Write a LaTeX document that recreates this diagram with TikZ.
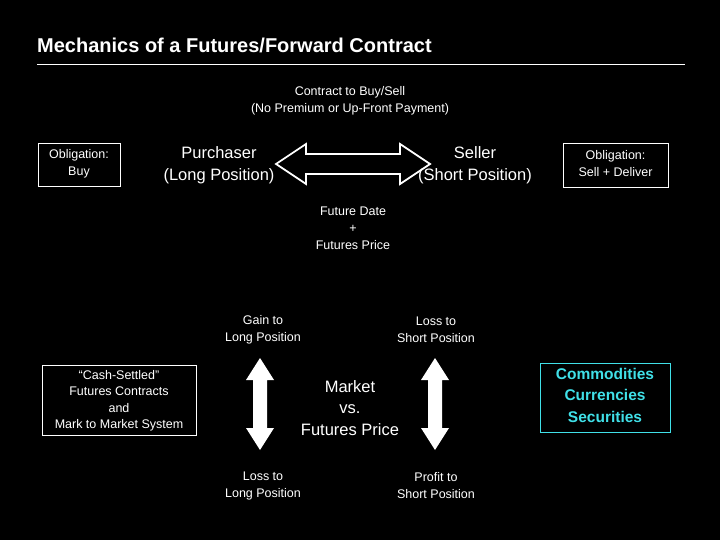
\documentclass[tikz,border=0pt]{standalone}
\usepackage{fontspec}
\setmainfont{Liberation Sans}
\definecolor{boxcyan}{RGB}{64,224,232}
\tikzset{
  txt/.style={text=white,align=center,font=\fontsize{12.5}{17}\selectfont,inner sep=0pt},
  big/.style={text=white,align=center,font=\fontsize{16.5}{21.5}\selectfont,inner sep=0pt},
  obox/.style={draw=white,line width=0.8pt},
  harrow/.style={draw=white,line width=1.8pt,fill=black,line join=miter},
  varrow/.style={fill=white}
}
\newcommand\hdarrow[2]{% center x, center y
  \draw[harrow] (#1-77,#2) -- ++(30,-20) -- ++(0,10) -- ++(94,0) -- ++(0,-10) -- ++(30,20)
    -- ++(-30,20) -- ++(0,-10) -- ++(-94,0) -- ++(0,10) -- cycle;}
\newcommand\vdarrow[2]{%
  \fill[varrow] (#1,#2-46) -- ++(14,22) -- ++(-7,0) -- ++(0,48) -- ++(7,0) -- ++(-14,22)
    -- ++(-14,-22) -- ++(7,0) -- ++(0,-48) -- ++(-7,0) -- cycle;}
\begin{document}
\begin{tikzpicture}[x=1pt,y=-1pt]
\fill[black] (0,0) rectangle (720,540);
\useasboundingbox (0,0) rectangle (720,540);
% title
\node[anchor=west,text=white,font=\bfseries\fontsize{20}{24}\selectfont,inner sep=0pt] (title) at (37,45) {Mechanics of a Futures/Forward Contract};
\draw[white,line width=0.6pt] (37,64) -- (685,64);
% top row
\node[txt] (contract) at (350,101) {Contract to Buy/Sell\\(No Premium or Up-Front Payment)};
\draw[obox] (38,143) rectangle (120,186);
\node[txt] (obuy) at (79,164) {Obligation:\\Buy};
\node[big] (buyer) at (219,165) {Purchaser\\(Long Position)};
\hdarrow{353}{164}
\node[big] (seller) at (475,165) {Seller\\(Short Position)};
\draw[obox] (563,143) rectangle (668,187);
\node[txt] (osell) at (615.5,164) {Obligation:\\Sell + Deliver};
\node[txt] (date) at (353,228) {Future Date\\+\\Futures Price};
% lower part
\node[txt] (gainl) at (263,330) {Gain to\\Long Position};
\node[txt] (losss) at (436,330) {Loss to\\Short Position};
\draw[obox] (42,365) rectangle (196,435);
\node[txt,font=\fontsize{12.5}{16.5}\selectfont] (cash) at (119,401) {``Cash-Settled''\\Futures Contracts\\and\\Mark to Market System};
\vdarrow{260}{404}
\vdarrow{435}{404}
\node[big] (market) at (350,408) {Market\\vs.\\Futures Price};
\node[txt] (lossl) at (263,486) {Loss to\\Long Position};
\node[txt] (profs) at (436,486) {Profit to\\Short Position};
\draw[boxcyan,line width=1pt] (540,363) rectangle (670,432);
\node[text=boxcyan,align=center,font=\bfseries\fontsize{15.5}{21.5}\selectfont,inner sep=0pt] (assets) at (605,395) {Commodities\\Currencies\\Securities};
\end{tikzpicture}
\end{document}
